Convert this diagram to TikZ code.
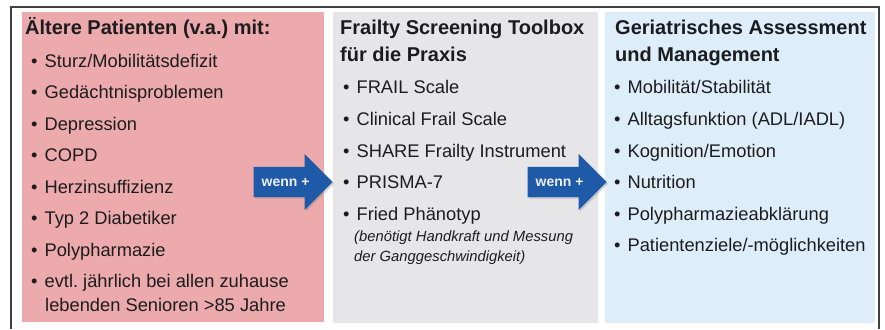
\documentclass[tikz,border=0pt]{standalone}
\usepackage{fontspec}
\setmainfont{Liberation Sans}
\frenchspacing
\usetikzlibrary{shapes.arrows,shadows,positioning}
\definecolor{altrot}{RGB}{236,170,172}
\definecolor{toolgrau}{RGB}{230,230,232}
\definecolor{assessblau}{RGB}{221,238,250}
\definecolor{pfeilblau}{RGB}{30,90,168}
\definecolor{schrift}{RGB}{28,28,30}
\newcommand{\kopf}[3]{\node[kopf] (#1) at (#2) {#3};}
\newcommand{\punkt}[3]{\node[punkt] (#1) at (#2) {\textbullet\hspace{7pt}#3};}
\newcommand{\zeile}[3]{\node[punkt] (#1) at (#2) {#3};}
\newcommand{\notiz}[3]{\node[notiztext] (#1) at (#2) {#3};}
\newcommand{\wenn}[2]{\node[pfeil] (#1) at (#2) {};
  \node[pfeiltext,right=8pt of #1.tail] (#1-t) {wenn +};}
\tikzset{
  feld/.style={anchor=north west,inner sep=0pt,draw=none},
  kopf/.style={anchor=base west,inner sep=0pt,text=schrift,font=\fontsize{20}{24}\selectfont\bfseries},
  punkt/.style={anchor=base west,inner sep=0pt,text=schrift,font=\fontsize{18.3}{22}\selectfont},
  notiztext/.style={anchor=base west,inner sep=0pt,text=schrift,font=\fontsize{14.8}{18}\selectfont\itshape},
  pfeil/.style={single arrow,anchor=tip,fill=pfeilblau,inner xsep=0pt,inner ysep=15pt,
    text height=0pt,text depth=0pt,minimum height=79pt,single arrow head extend=13pt,
    single arrow tip angle=90,drop shadow={shadow xshift=1.5pt,shadow yshift=-1.5pt,opacity=.35}},
  pfeiltext/.style={anchor=west,inner sep=0pt,text=white!92!pfeilblau,font=\fontsize{14}{16}\selectfont\bfseries},
  rahmen/.style={draw=black!75,line width=1.3pt}
}

\begin{document}
\begin{tikzpicture}[x=1pt,y=-1pt]
  \useasboundingbox (0,0) rectangle (885,329);
  % Rahmen, unten offen
  \draw[rahmen] (11,329) -- (11,7) -- (879,7) -- (879,329);
  % drei Felder
  \node[feld,fill=altrot,minimum width=302pt,minimum height=310pt] (alt) at (22,12) {};
  \node[feld,fill=toolgrau,minimum width=265pt,minimum height=311pt] (tool) at (333,12) {};
  \node[feld,fill=assessblau,minimum width=270pt,minimum height=311pt] (ger) at (605,12) {};
  % linkes Feld
  \kopf{alt-k}{25,35}{Ältere Patienten (v.a.) mit:}
  \punkt{alt-1}{31,67}{Sturz/Mobilitätsdefizit}
  \punkt{alt-2}{31,98.5}{Gedächtnisproblemen}
  \punkt{alt-3}{31,130}{Depression}
  \punkt{alt-4}{31,161.5}{COPD}
  \punkt{alt-5}{31,193}{Herzinsuffizienz}
  \punkt{alt-6}{31,224.5}{Typ 2 Diabetiker}
  \punkt{alt-7}{31,256}{Polypharmazie}
  \punkt{alt-8}{31,287.5}{evtl. jährlich bei allen zuhause}
  \zeile{alt-8b}{45,311.5}{lebenden Senioren >85 Jahre}
  % mittleres Feld
  \kopf{tool-k1}{340,35}{Frailty Screening Toolbox}
  \kopf{tool-k2}{340,62}{für die Praxis}
  \punkt{tool-1}{343,93}{FRAIL Scale}
  \punkt{tool-2}{343,125}{Clinical Frail Scale}
  \punkt{tool-3}{343,157}{SHARE Frailty Instrument}
  \punkt{tool-4}{343,188.5}{PRISMA-7}
  \punkt{tool-5}{343,220}{Fried Phänotyp}
  \notiz{tool-n1}{354,241}{(benötigt Handkraft und Messung}
  \notiz{tool-n2}{354,261}{der Ganggeschwindigkeit)}
  % rechtes Feld
  \kopf{ger-k1}{615,35}{Geriatrisches Assessment}
  \kopf{ger-k2}{615,62}{und Management}
  \punkt{ger-1}{614,93}{Mobilität/Stabilität}
  \punkt{ger-2}{614,125}{Alltagsfunktion (ADL/IADL)}
  \punkt{ger-3}{614,157}{Kognition/Emotion}
  \punkt{ger-4}{614,188}{Nutrition}
  \punkt{ger-5}{614,220}{Polypharmazieabklärung}
  \punkt{ger-6}{614,251}{Patientenziele/-möglichkeiten}
  % Pfeile
  \wenn{w1}{333,182}
  \wenn{w2}{607,182}
\end{tikzpicture}
\end{document}
